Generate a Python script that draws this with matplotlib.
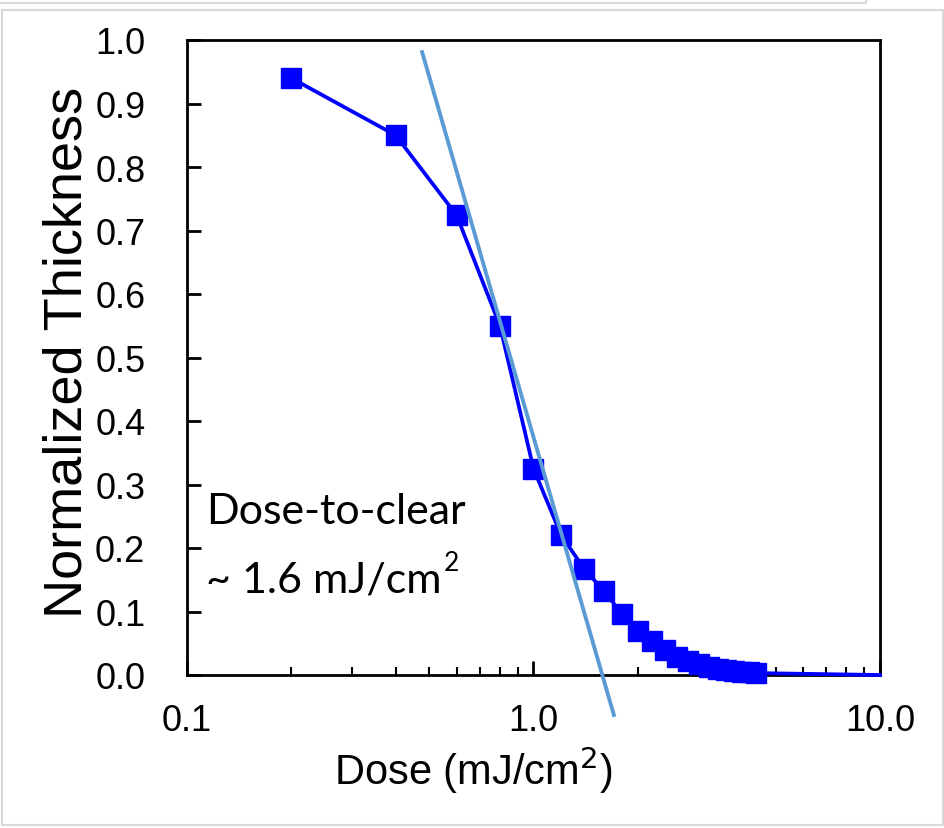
import matplotlib
matplotlib.use("Agg")
import matplotlib.pyplot as plt
from matplotlib.lines import Line2D
from matplotlib.ticker import FixedLocator, LogLocator, NullFormatter

dose = [0.2, 0.4, 0.6, 0.8, 1.0, 1.2, 1.4, 1.6, 1.8, 2.0, 2.2, 2.4, 2.6, 2.8,
        3.0, 3.2, 3.4, 3.6, 3.8, 4.0, 4.2, 4.4, 10.0]
thickness = [0.940, 0.850, 0.724, 0.550, 0.325, 0.221, 0.167, 0.132, 0.096,
             0.069, 0.054, 0.040, 0.028, 0.022, 0.017, 0.013, 0.010, 0.008,
             0.006, 0.005, 0.004, 0.003, 0.0]
fit_dose = [0.477, 1.706]
fit_thickness = [0.981, -0.063]

xticks = [0.1, 1.0, 10.0]
xticklabels = ["0.1", "1.0", "10.0"]
yticks = [0.0, 0.1, 0.2, 0.3, 0.4, 0.5, 0.6, 0.7, 0.8, 0.9, 1.0]
yticklabels = [f"{v:.1f}" for v in yticks]

plt.rcParams['font.family'] = ['Liberation Sans', 'DejaVu Sans']

W, H = 945, 829
fig = plt.figure(figsize=(9.45, 8.29), dpi=100)
ax = fig.add_axes([187/W, 1-676/H, (880-187)/W, (676-41)/H])

ax.plot(dose, thickness, color="#0000FF", lw=2.7, marker="s", markersize=14.5,
        markevery=list(range(len(dose)-1)), clip_on=False, zorder=3)
ax.plot(fit_dose, fit_thickness, color="#5B9BD5", lw=2.8, clip_on=False, zorder=4)

ax.set_xscale("log")
ax.set_xlim(0.1, 10.0)
ax.set_ylim(0.0, 1.0)
ax.xaxis.set_major_locator(FixedLocator(xticks))
ax.set_xticklabels(xticklabels)
ax.xaxis.set_minor_locator(LogLocator(base=10, subs=range(2, 10)))
ax.xaxis.set_minor_formatter(NullFormatter())
ax.set_yticks(yticks)
ax.set_yticklabels(yticklabels)

for s in ax.spines.values():
    s.set_linewidth(2.0)
ax.tick_params(axis="both", which="major", direction="in", length=10, width=2,
               labelsize=26)
ax.tick_params(axis="y", which="major", pad=30)
ax.tick_params(axis="x", which="major", pad=20)
ax.tick_params(axis="x", which="minor", direction="in", length=6, width=1.5)

ax.set_xlabel("Dose (mJ/cm$^2$)", fontsize=30)
ax.xaxis.set_label_coords((473-187)/(880-187), -(770-676)/(676-41))
ax.xaxis.label.set_va("center")
ax.set_ylabel("Normalized Thickness", fontsize=39)
ax.yaxis.set_label_coords(-(187-68)/(880-187), 0.51)
ax.yaxis.label.set_va("center")

tfam = ["Lato", "DejaVu Sans"]
ax.text(0.027, 0.258, "Dose-to-clear", transform=ax.transAxes, fontsize=31,
        family=tfam, va="center", ha="left")
t2 = ax.text(0.027, 0.150, "~ 1.6 mJ/cm", transform=ax.transAxes, fontsize=31,
             family=tfam, va="center", ha="left")
fig.canvas.draw()
bb = t2.get_window_extent()
fig.text((bb.x1 + 3)/W, (bb.y1 + 11)/H, "2", fontsize=19, family=tfam,
         va="top", ha="left")

gray = "#D9D9D9"
def fl(xs, ys):
    fig.add_artist(Line2D([x/W for x in xs], [1-y/H for y in ys],
                          transform=fig.transFigure, color=gray, lw=1.5))
fl([0, 866, 866], [4, 4, 0])
fl([2, 943, 943, 2, 2], [11, 11, 826, 826, 11])

fig.savefig("out.png", dpi=100, facecolor="white")
